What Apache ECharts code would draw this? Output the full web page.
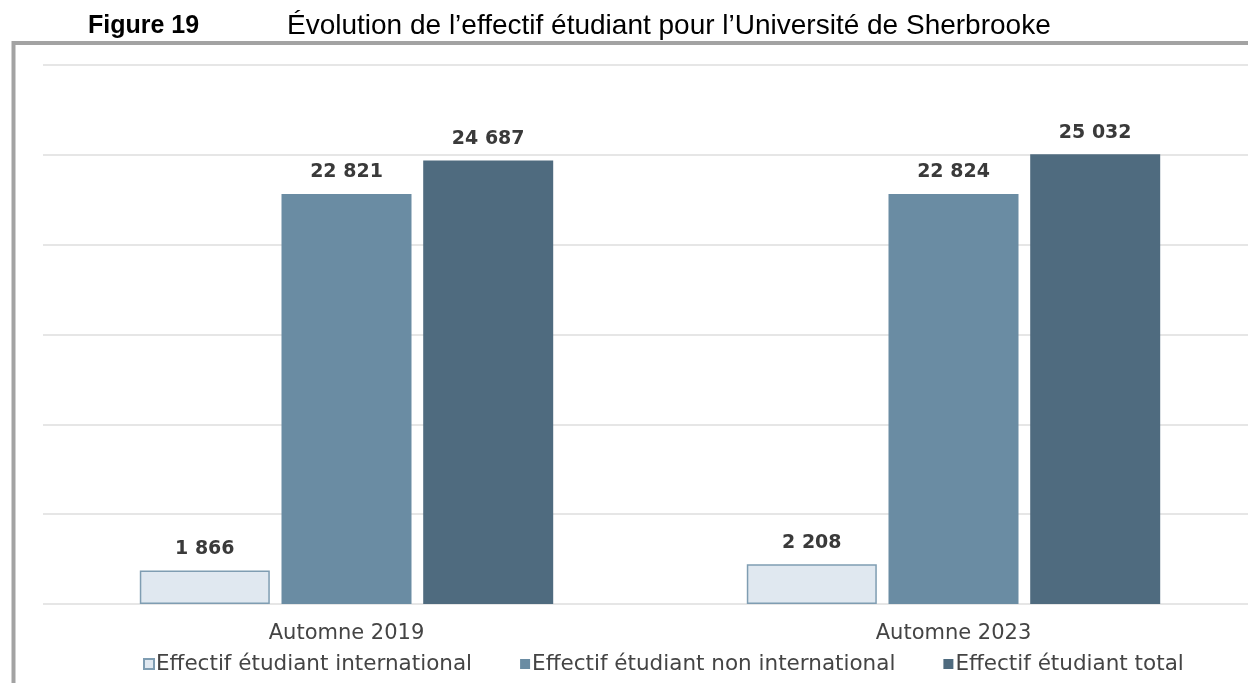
<!DOCTYPE html>
<html>
<head>
<meta charset="utf-8">
<script src="https://cdn.jsdelivr.net/npm/echarts@6/dist/echarts.min.js"></script>
<style>
  html, body { margin: 0; padding: 0; background: #fff; }
  #chartEffectif { width: 1248px; height: 683px; }
</style>
</head>
<body>
<div id="chartEffectif"></div>
<script>
var annees = ['Automne 2019', 'Automne 2023'];
var effectifInternational = [1866, 2208];
var effectifNonInternational = [22821, 22824];
var effectifTotal = [24687, 25032];
var nomsSeries = ['Effectif étudiant international', 'Effectif étudiant non international', 'Effectif étudiant total'];

var myChartEffectif = echarts.init(document.getElementById('chartEffectif'));

// nombres avec espace comme séparateur de milliers
function formatNombre(p) {
    return String(p.value).replace(/\B(?=(\d{3})+(?!\d))/g, ' ');
}

var labelBarre = {
    show: true,
    position: 'top',
    distance: 12,
    formatter: formatNombre,
    fontFamily: 'DejaVu Sans',
    fontWeight: 'bold',
    fontSize: 19,
    color: '#3a3a3a'
};

let optionEffectif = {
    animation: false,
    title: [
        {
            text: 'Figure 19',
            left: 83, top: 9,
            textStyle: { fontFamily: 'Liberation Sans', fontWeight: 'bold', fontSize: 25, color: '#000' }
        },
        {
            text: 'Évolution de l’effectif étudiant pour l’Université de Sherbrooke',
            left: 282, top: 7,
            textStyle: { fontFamily: 'Liberation Sans', fontWeight: 'normal', fontSize: 28, color: '#000' }
        }
    ],
    graphic: [
        {
            type: 'rect',
            shape: { x: 13.5, y: 43, width: 1300, height: 700 },
            style: { fill: 'none', stroke: '#a3a3a3', lineWidth: 4 },
            silent: true
        }
    ],
    legend: {
        left: 143,
        top: 653,
        padding: 0,
        itemWidth: 10,
        itemHeight: 10,
        itemGap: 48,
        icon: 'rect',
        textStyle: { fontFamily: 'DejaVu Sans', fontSize: 21.5, color: '#444', padding: [0, 0, 0, -3] },
        data: nomsSeries
    },
    grid: {
        left: 43,
        width: 1214,
        top: 65,
        bottom: 79,
        outerBoundsMode: 'none'
    },
    xAxis: {
        type: 'category',
        data: annees,
        axisLine: { show: false },
        axisTick: { show: false },
        axisLabel: { margin: 19, fontFamily: 'DejaVu Sans', fontSize: 21, color: '#444' }
    },
    yAxis: {
        type: 'value',
        min: 0,
        max: 30000,
        interval: 5000,
        axisLabel: { show: false },
        splitLine: { lineStyle: { color: '#e6e6e6', width: 2 } }
    },
    series: [
        {
            name: nomsSeries[0],
            type: 'bar',
            barWidth: 130,
            barGap: '9%',
            data: effectifInternational,
            itemStyle: { color: '#e0e8f0', borderColor: '#7f9db2', borderWidth: 1.5 },
            label: labelBarre
        },
        {
            name: nomsSeries[1],
            type: 'bar',
            barWidth: 130,
            barGap: '9%',
            data: effectifNonInternational,
            itemStyle: { color: '#6a8ca3' },
            label: labelBarre
        },
        {
            name: nomsSeries[2],
            type: 'bar',
            barWidth: 130,
            barGap: '9%',
            data: effectifTotal,
            itemStyle: { color: '#4f6b7f' },
            label: labelBarre
        }
    ]
};

myChartEffectif.setOption(optionEffectif);
</script>
</body>
</html>
